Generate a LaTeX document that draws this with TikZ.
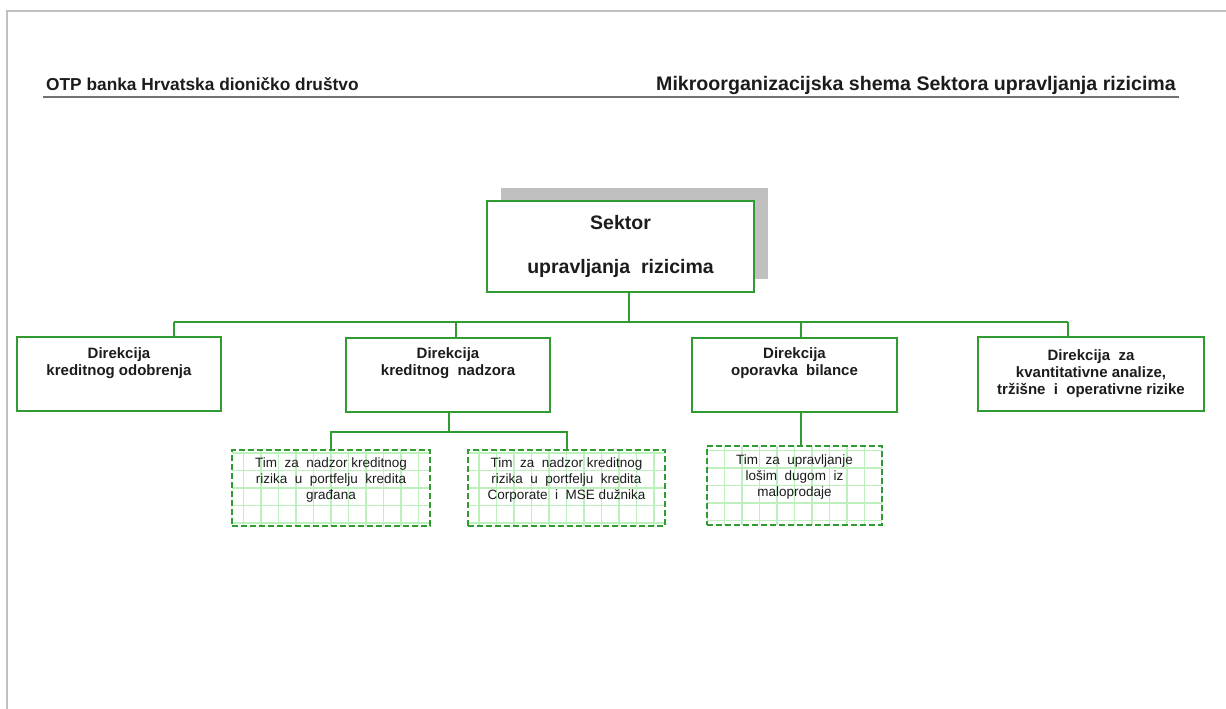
\documentclass[tikz,border=0pt]{standalone}
\usepackage{fontspec}
\setmainfont{Liberation Sans}
\usepackage{tikz}
\usetikzlibrary{positioning}
\usetikzlibrary{shadows}
\definecolor{zelena}{RGB}{48,155,48}
\definecolor{svijetla}{RGB}{190,240,190}
\definecolor{sjena}{RGB}{192,192,192}
\definecolor{tekst}{RGB}{28,28,28}
\tikzstyle{sektor}=[
        draw=zelena,
        line width=2pt,
        fill=white,
        minimum width=267,
        minimum height=91,
        align=center,
        text=tekst,
        font=\bfseries\fontsize{19.5}{22}\selectfont,
        drop shadow={shadow xshift=14pt,shadow yshift=13pt,fill=sjena,opacity=1}
]
\tikzstyle{direkcija}=[rectangle,draw=zelena,line width=2pt,fill=white,minimum height=74]
\tikzstyle{dirtekst}=[anchor=north,align=center,inner sep=0pt,text=tekst,
font=\bfseries\fontsize{15}{17}\selectfont]
\tikzstyle{tim}=[rectangle,draw=zelena,line width=2pt,dash pattern=on 6pt off 3pt,
fill=white,minimum height=76,
path picture={\draw[svijetla,solid,line width=1.2pt] (path picture bounding box.south west)
grid[step=17.5pt] (path picture bounding box.north east);}]
\tikzstyle{timtekst}=[anchor=north,align=center,inner sep=0pt,text=tekst,
font=\fontsize{13.5}{16}\selectfont]
\tikzstyle{veza}=[draw=zelena,line width=2pt]

\begin{document}
\begin{tikzpicture}[x=1pt,y=-1pt]
\useasboundingbox (0,0) rectangle (1226,709);
\fill[white] (0,0) rectangle (1226,709);
\draw[sjena,line width=1.5pt] (1226,11) -- (7,11) -- (7,709);
% zaglavlje
\node[anchor=base west,inner sep=0pt,text=tekst,font=\bfseries\fontsize{17.3}{20}\selectfont] (banka) at (46,90) {OTP banka Hrvatska dioničko društvo};
\node[anchor=base east,inner sep=0pt,text=tekst,font=\bfseries\fontsize{19.6}{22}\selectfont] (naslov) at (1176,90) {Mikroorganizacijska shema Sektora upravljanja rizicima};
\draw[black!55,line width=2pt] (43,97) -- (1179,97);
% cvorovi
\node[sektor] (sek) at (620.5,246) {Sektor\\[22pt]upravljanja\ \ rizicima};
\node[direkcija,minimum width=204] (d1) at (119,374) {};
\node[direkcija,minimum width=204] (d2) at (448,374.5) {};
\node[direkcija,minimum width=205] (d3) at (794.5,374.5) {};
\node[direkcija,minimum width=226] (d4) at (1091,374) {};
\node[dirtekst,below=11pt of d1.north] (d1t) {Direkcija\\kreditnog odobrenja};
\node[dirtekst,below=11pt of d2.north] (d2t) {Direkcija\\kreditnog\ \ nadzora};
\node[dirtekst,below=11pt of d3.north] (d3t) {Direkcija\\oporavka\ \ bilance};
\node[dirtekst,below=13pt of d4.north] (d4t) {Direkcija\ \ za\\kvantitativne analize,\\tržišne\ \ i\ \ operativne rizike};
\node[tim,minimum width=198] (t1) at (331,488) {};
\node[tim,minimum width=197] (t2) at (566.5,488) {};
\node[tim,minimum width=175,minimum height=79] (t3) at (794.5,485.5) {};
\node[timtekst,below=8.5pt of t1.north] (t1t) {Tim\ \ za\ \ nadzor kreditnog\\rizika\ \ u\ \ portfelju\ \ kredita\\građana};
\node[timtekst,below=8.5pt of t2.north] (t2t) {Tim\ \ za\ \ nadzor kreditnog\\rizika\ \ u\ \ portfelju\ \ kredita\\Corporate\ \ i\ \ MSE dužnika};
\node[timtekst,below=10pt of t3.north] (t3t) {Tim\ \ za\ \ upravljanje\\lošim\ \ dugom\ \ iz\\maloprodaje};
% veze
\coordinate (s0) at (629,322);
\coordinate (s1) at (174,322);
\coordinate (s2) at (456,322);
\coordinate (s3) at (801,322);
\coordinate (s4) at (1068,322);
\coordinate (r2) at (449,432);
\draw[veza] (s1) -- (s4);
\draw[veza] (s0 |- sek.south) -- (s0);
\draw[veza] (s1) -- (s1 |- d1.north);
\draw[veza] (s2) -- (s2 |- d2.north);
\draw[veza] (s3) -- (s3 |- d3.north);
\draw[veza] (s4) -- (s4 |- d4.north);
\draw[veza] (r2 |- d2.south) -- (r2) -| (t1.north);
\draw[veza] (r2) -| (t2.north);
\draw[veza] (s3 |- d3.south) -- (s3 |- t3.north);
\end{tikzpicture}
\end{document}
